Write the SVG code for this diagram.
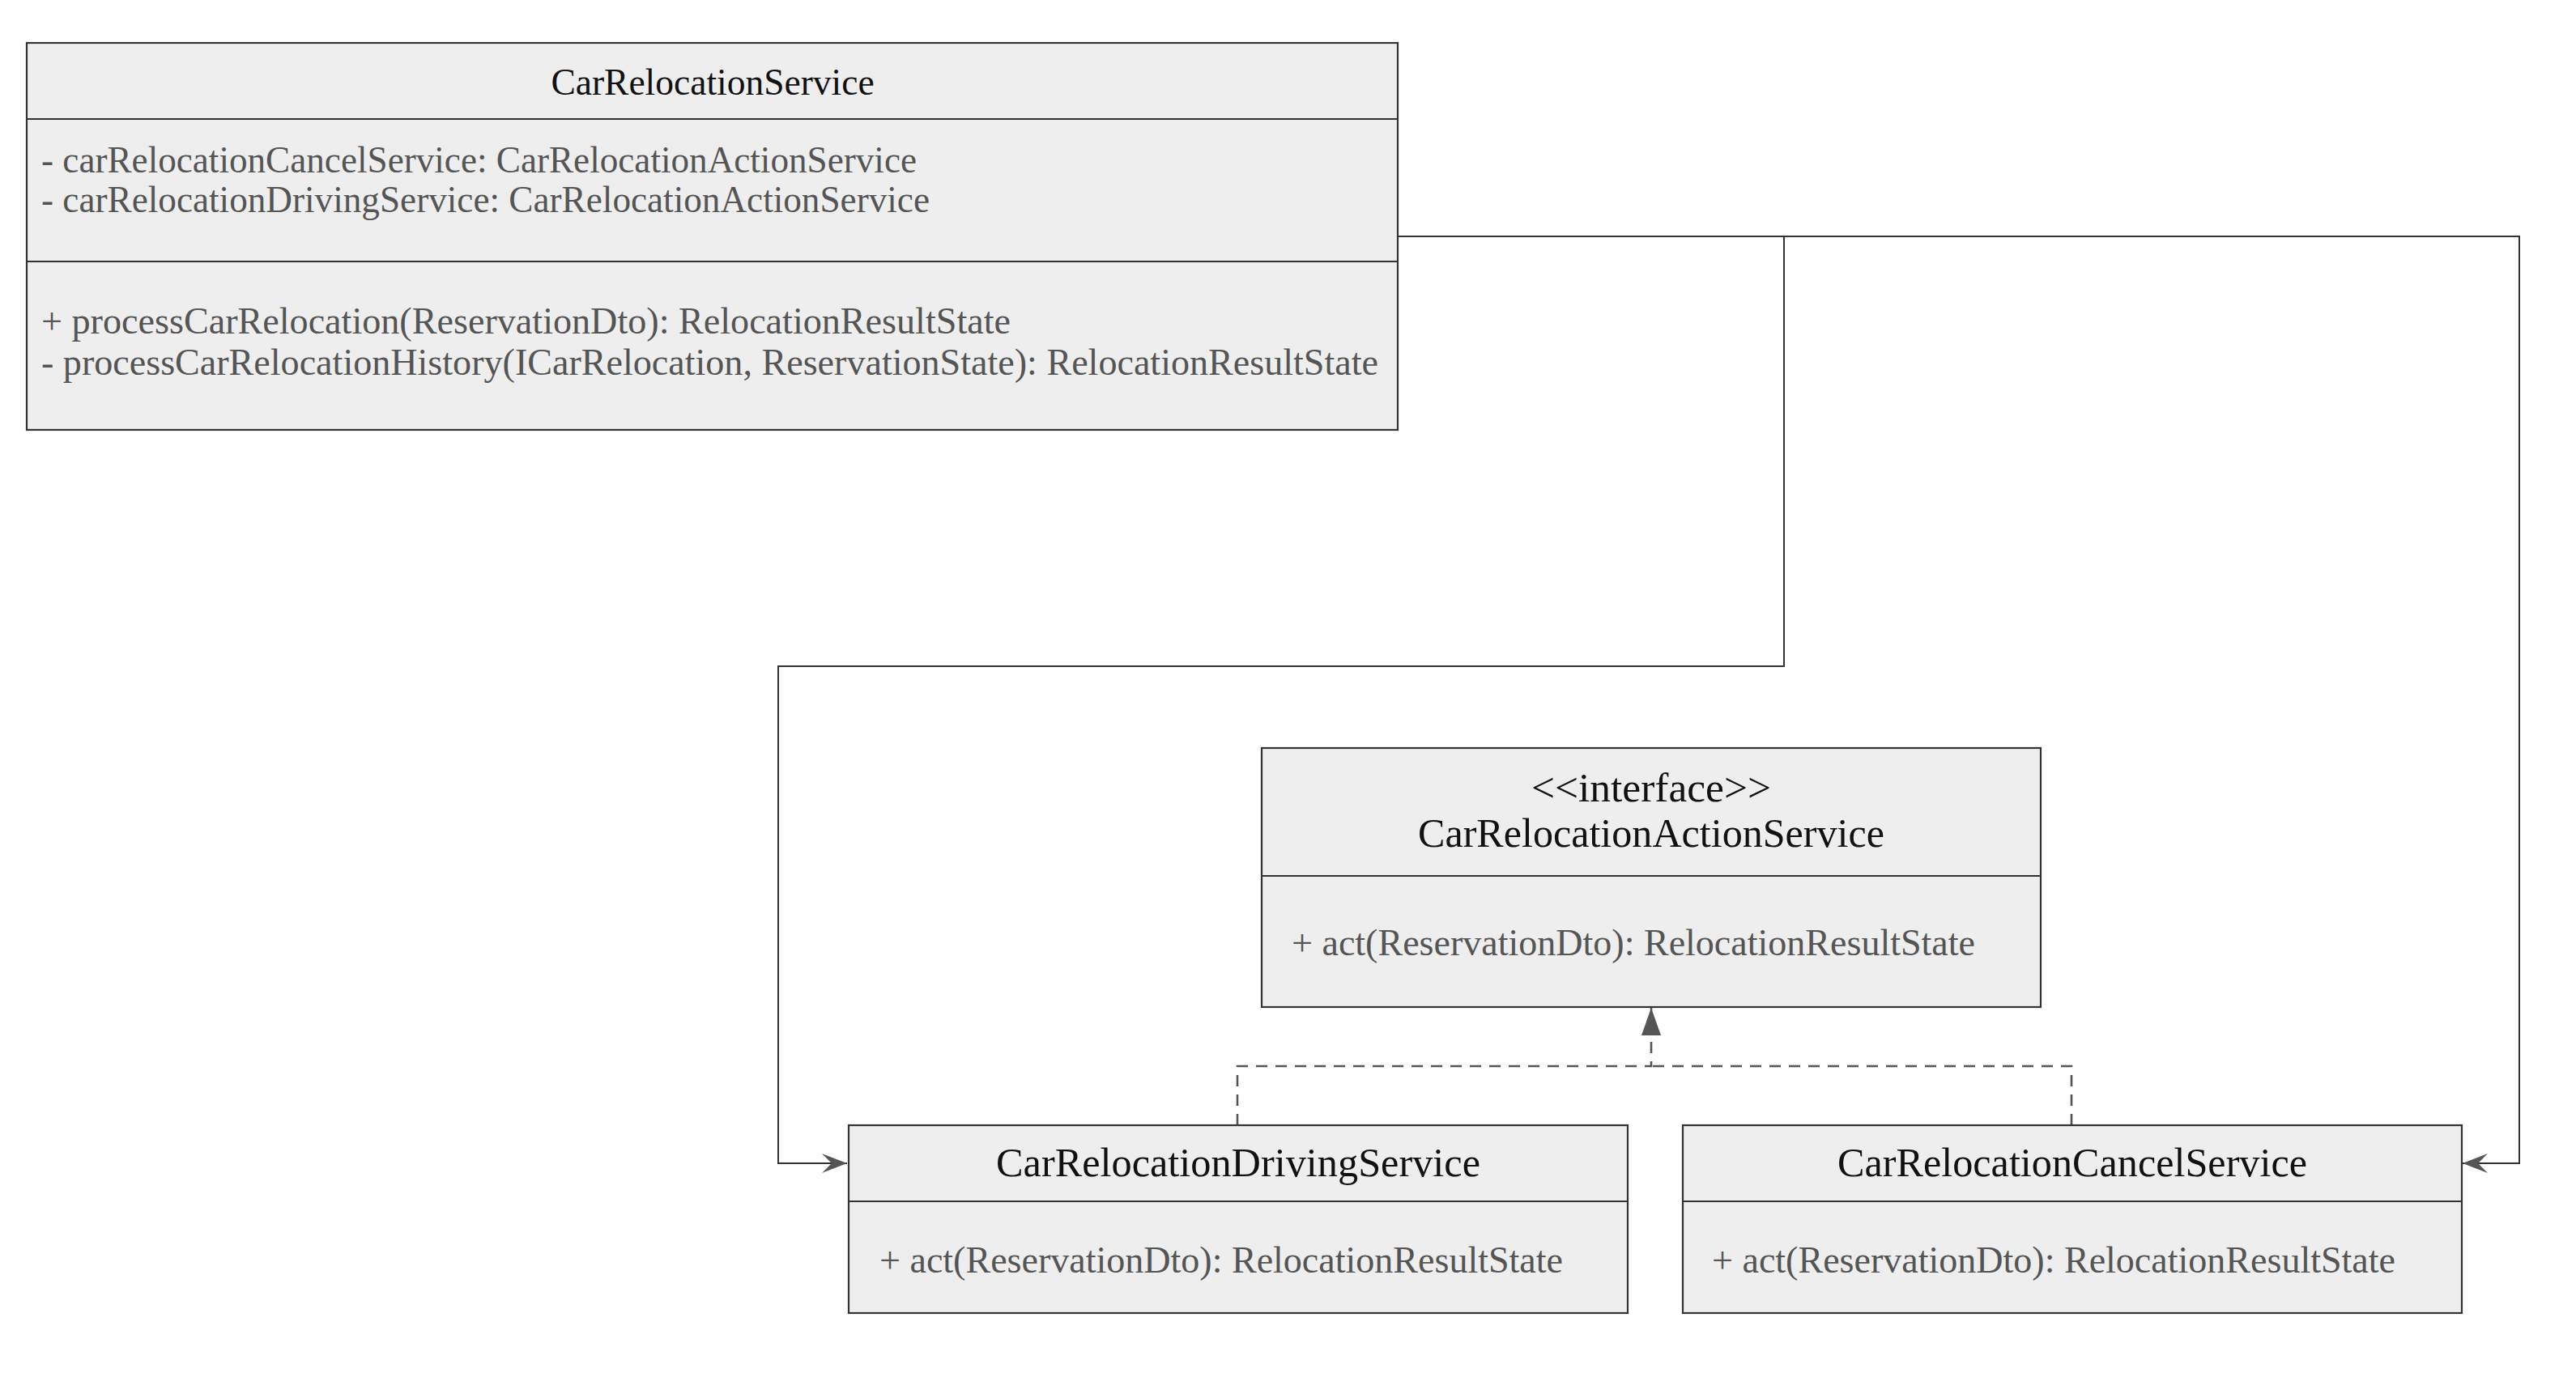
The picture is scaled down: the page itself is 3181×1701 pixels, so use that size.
<svg xmlns="http://www.w3.org/2000/svg" width="3181" height="1701" viewBox="0 0 3181 1701">
<style>
.box{fill:#eeeeee;stroke:#333333;stroke-width:2.2}
.div{stroke:#333333;stroke-width:2.2}
.title{font-family:"Liberation Serif",serif;font-size:45.5px;fill:#111111;text-anchor:middle}
.big{font-size:50px}
.mem{font-family:"Liberation Serif",serif;font-size:46px;fill:#555555}
.conn{fill:none;stroke:#333333;stroke-width:2}
.dash{fill:none;stroke:#555555;stroke-width:2.6;stroke-dasharray:14 10}
</style>
<defs>
<marker id="open" markerUnits="userSpaceOnUse" markerWidth="40" markerHeight="30" refX="31" refY="12" orient="auto">
<path d="M0,0 L31,12 L0,24 L12,12 Z" fill="#555555"/>
</marker>
<marker id="tri" markerUnits="userSpaceOnUse" markerWidth="30" markerHeight="40" refX="34" refY="12" orient="auto">
<path d="M0,0 L34,12 L0,24 Z" fill="#555555"/>
</marker>
</defs>
<rect width="3181" height="1701" fill="#ffffff"/>
<g id="connectors">
<path class="conn" d="M1727,292 H2203 V823 H961 V1437 H1046" marker-end="url(#open)"/>
<path class="conn" d="M1727,292 H3111 V1437 H3041" marker-end="url(#open)"/>
<path class="dash" d="M1528,1390 V1317 H2039 V1245" marker-end="url(#tri)"/>
<path class="dash" d="M2558,1390 V1317 H2039"/>
</g>
<g id="CarRelocationService">
<rect class="box" x="33" y="53" width="1693" height="478"/>
<line class="div" x1="33" y1="147" x2="1726" y2="147"/>
<line class="div" x1="33" y1="323" x2="1726" y2="323"/>
<text class="title" x="880" y="117">CarRelocationService</text>
<text class="mem" x="51" y="213" textLength="1081" lengthAdjust="spacingAndGlyphs">- carRelocationCancelService: CarRelocationActionService</text>
<text class="mem" x="51" y="262" textLength="1097" lengthAdjust="spacingAndGlyphs">- carRelocationDrivingService: CarRelocationActionService</text>
<text class="mem" x="51" y="412" textLength="1197" lengthAdjust="spacingAndGlyphs">+ processCarRelocation(ReservationDto): RelocationResultState</text>
<text class="mem" x="51" y="463" textLength="1651" lengthAdjust="spacingAndGlyphs">- processCarRelocationHistory(ICarRelocation, ReservationState): RelocationResultState</text>
</g>
<g id="CarRelocationActionService">
<rect class="box" x="1558" y="924" width="962" height="320"/>
<line class="div" x1="1558" y1="1082" x2="2520" y2="1082"/>
<text class="title big" x="2039" y="990" textLength="296" lengthAdjust="spacingAndGlyphs">&lt;&lt;interface&gt;&gt;</text>
<text class="title big" x="2039" y="1046" textLength="576" lengthAdjust="spacingAndGlyphs">CarRelocationActionService</text>
<text class="mem" x="1595" y="1180" textLength="844" lengthAdjust="spacingAndGlyphs">+ act(ReservationDto): RelocationResultState</text>
</g>
<g id="CarRelocationDrivingService">
<rect class="box" x="1048" y="1390" width="962" height="232"/>
<line class="div" x1="1048" y1="1484" x2="2010" y2="1484"/>
<text class="title big" x="1529" y="1453" textLength="598" lengthAdjust="spacingAndGlyphs">CarRelocationDrivingService</text>
<text class="mem" x="1086" y="1572" textLength="844" lengthAdjust="spacingAndGlyphs">+ act(ReservationDto): RelocationResultState</text>
</g>
<g id="CarRelocationCancelService">
<rect class="box" x="2078" y="1390" width="962" height="232"/>
<line class="div" x1="2078" y1="1484" x2="3040" y2="1484"/>
<text class="title big" x="2559" y="1453" textLength="580" lengthAdjust="spacingAndGlyphs">CarRelocationCancelService</text>
<text class="mem" x="2114" y="1572" textLength="844" lengthAdjust="spacingAndGlyphs">+ act(ReservationDto): RelocationResultState</text>
</g>
</svg>
